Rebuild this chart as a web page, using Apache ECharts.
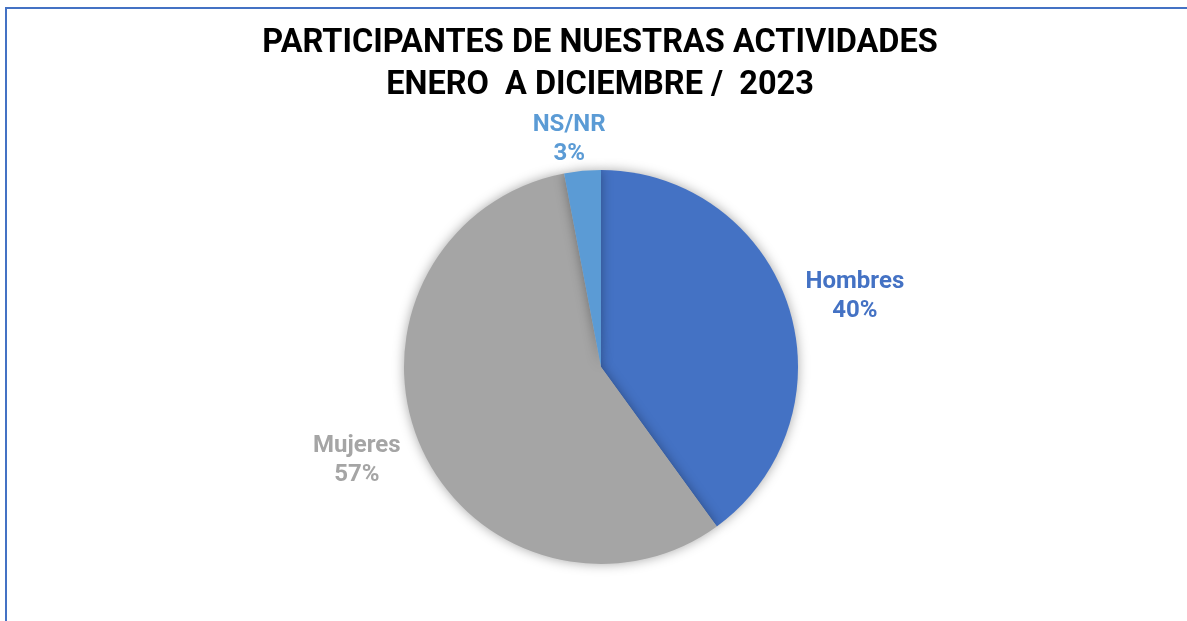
<!DOCTYPE html>
<html><head><meta charset="utf-8">
<script src="https://cdn.jsdelivr.net/npm/echarts@6/dist/echarts.min.js"></script>
<style>
html,body{margin:0;padding:0;background:#fff;}
#frame{position:absolute;left:5px;top:7px;width:1300px;height:700px;border-top:2px solid #4472C4;border-left:2px solid #4472C4;}
#chart{position:absolute;left:0;top:0;width:1187px;height:621px;}
</style></head>
<body>
<div id="frame"></div>
<div id="chart"></div>
<script>
const titleLines = ['PARTICIPANTES DE NUESTRAS ACTIVIDADES', 'ENERO  A DICIEMBRE /  2023'];
const categories = ['Hombres', 'Mujeres', 'NS/NR'];
const values = [40, 57, 3];
const colors = ['#4472C4', '#A5A5A5', '#5B9BD5'];

// layout / style settings
const CENTER = [601, 367];
const RADIUS = 197;
const labelGap = {'Hombres': 12, 'Mujeres': 13, 'NS/NR': 3};
const labelNudge = {'Hombres': [2, 11], 'Mujeres': [-4, -10], 'NS/NR': [-10, 4]};

const total = values.reduce((a, b) => a + b, 0);
const midAngles = [];
let acc = 0;
values.forEach(v => { midAngles.push((90 - 360 * (acc + v / 2) / total) * Math.PI / 180); acc += v; });

const chart = echarts.init(document.getElementById('chart'), null, {renderer: 'canvas'});
chart.setOption({
  backgroundColor: 'transparent',
  title: {
    text: titleLines.join('\n'),
    left: 595,
    textAlign: 'center',
    top: 18,
    textStyle: {fontFamily: 'Roboto', fontWeight: 'bold', fontSize: 32.5, lineHeight: 42, color: '#000'}
  },
  series: [{
    type: 'pie',
    center: CENTER,
    radius: [0, RADIUS],
    startAngle: 90,
    clockwise: true,
    avoidLabelOverlap: false,
    data: categories.map((c, i) => ({
      name: c, value: values[i],
      itemStyle: {color: colors[i]},
      label: {color: colors[i]}
    })),
    itemStyle: {shadowBlur: 12, shadowColor: 'rgba(0,0,0,0.35)', borderWidth: 0},
    label: {
      show: true,
      position: 'outside',
      formatter: p => p.name + '\n' + Math.round(p.percent) + '%',
      fontFamily: 'Roboto', fontWeight: 'bold', fontSize: 24, lineHeight: 29, align: 'center'
    },
    labelLine: {show: false, length: 12, length2: 0},
    labelLayout: function (params) {
      const i = params.dataIndex;
      const a = midAngles[i];
      const dx = Math.cos(a), dy = -Math.sin(a);
      const hw = params.labelRect.width / 2, hh = params.labelRect.height / 2;
      const proj = hw * Math.abs(dx) + hh * Math.abs(dy);
      const d = RADIUS + labelGap[categories[i]] + proj;
      const n = labelNudge[categories[i]];
      return {x: CENTER[0] + dx * d + n[0], y: CENTER[1] + dy * d + n[1], align: 'center', verticalAlign: 'middle'};
    }
  }]
});
</script>
</body></html>
